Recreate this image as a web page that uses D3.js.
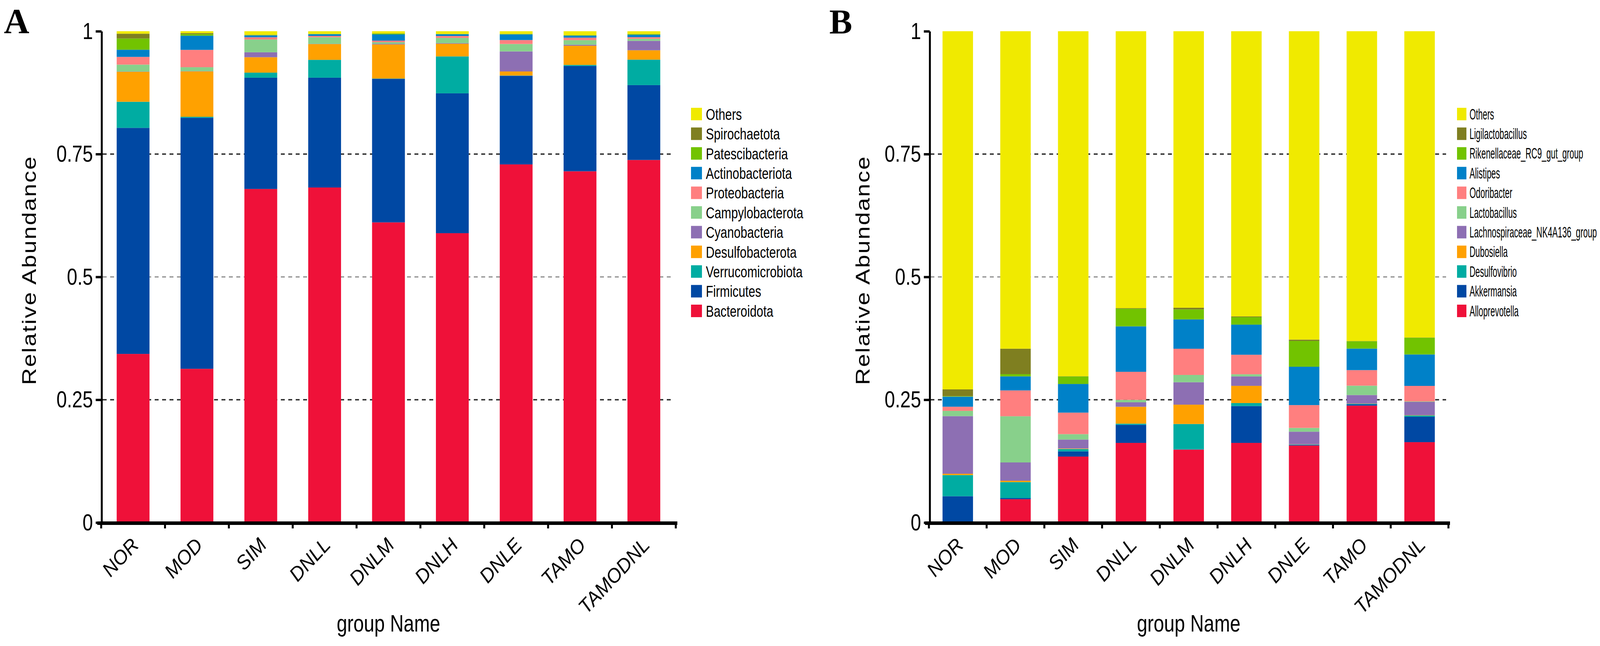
<!DOCTYPE html>
<html>
<head>
<meta charset="utf-8">
<script src="https://cdn.jsdelivr.net/npm/d3@7"></script>
<style>
  html, body { margin: 0; background: #fff; overflow: hidden; }
  svg { display: block; }
  text { font-family: "Liberation Sans", Arial, sans-serif; fill: #000; }
</style>
</head>
<body>
<svg id="fig" width="4238" height="1654"></svg>
<script>
var groups = ["NOR", "MOD", "SIM", "DNLL", "DNLM", "DNLH", "DNLE", "TAMO", "TAMODNL"];

// panel A, phylum level (stack order: bottom -> top)
var phylumNames = [
  "Bacteroidota",
  "Firmicutes",
  "Verrucomicrobiota",
  "Desulfobacterota",
  "Cyanobacteria",
  "Campylobacterota",
  "Proteobacteria",
  "Actinobacteriota",
  "Patescibacteria",
  "Spirochaetota",
  "Others",
];
var bacteroidota = [0.3433, 0.313, 0.679, 0.682, 0.611, 0.589, 0.729, 0.715, 0.738];
var firmicutes = [0.4601, 0.511, 0.2265, 0.2235, 0.2922, 0.2847, 0.1803, 0.2144, 0.1524];
var verrucomicrobiota = [0.0531, 0.0019, 0.0103, 0.0363, 0.0005, 0.0751, 0.0005, 0.0021, 0.0518];
var desulfobacterota = [0.061, 0.0924, 0.0313, 0.032, 0.0695, 0.0257, 0.0083, 0.039, 0.0191];
var cyanobacteria = [0.0005, 0.0005, 0.0101, 0.0005, 0.0013, 0.0013, 0.0409, 0.0021, 0.0191];
var campylobacterota = [0.0141, 0.008, 0.026, 0.0135, 0.0032, 0.0106, 0.0151, 0.0093, 0.0043];
var proteobacteria = [0.0157, 0.0353, 0.0045, 0.0027, 0.0032, 0.004, 0.008, 0.0051, 0.0032];
var actinobacteriota = [0.0146, 0.0289, 0.0038, 0.0035, 0.0127, 0.0035, 0.0114, 0.004, 0.0048];
var patescibacteria = [0.0228, 0.0032, 0.001, 0.0005, 0.0016, 0.0005, 0.0008, 0.001, 0.0015];
var spirochaetota = [0.0098, 0.0019, 0.0005, 0.0003, 0.0005, 0.0003, 0.0005, 0.0003, 0.0004];
var phylumOthers = [0.005, 0.004, 0.007, 0.0052, 0.0043, 0.0053, 0.0052, 0.0077, 0.0054];

// panel B, genus level (stack order: bottom -> top)
var genusNames = [
  "Alloprevotella",
  "Akkermansia",
  "Desulfovibrio",
  "Dubosiella",
  "Lachnospiraceae_NK4A136_group",
  "Lactobacillus",
  "Odoribacter",
  "Alistipes",
  "Rikenellaceae_RC9_gut_group",
  "Ligilactobacillus",
  "Others",
];
var alloprevotella = [0, 0.0476, 0.1344, 0.1622, 0.1485, 0.1622, 0.1569, 0.238, 0.1637];
var akkermansia = [0.0537, 0.0024, 0.0106, 0.0369, 0.0005, 0.075, 0.0015, 0.0027, 0.0517];
var desulfovibrio = [0.043, 0.0324, 0.0047, 0.0023, 0.0517, 0.0061, 0.0005, 0.001, 0.0027];
var dubosiella = [0.0027, 0.0027, 0.001, 0.0343, 0.0393, 0.035, 0.0005, 0.0005, 0.0005];
var lachnospiraceae = [0.1173, 0.0373, 0.0183, 0.0091, 0.0457, 0.0191, 0.0256, 0.0174, 0.027];
var lactobacillus = [0.0107, 0.094, 0.011, 0.005, 0.0148, 0.0045, 0.0077, 0.0191, 0.001];
var odoribacter = [0.0084, 0.0526, 0.0438, 0.0571, 0.0533, 0.0397, 0.0464, 0.0316, 0.0316];
var alistipes = [0.0205, 0.0286, 0.0583, 0.0925, 0.0598, 0.0613, 0.0781, 0.0438, 0.064];
var rikenellaceae = [0.001, 0.0045, 0.0152, 0.036, 0.0202, 0.0152, 0.0525, 0.0148, 0.0339];
var ligilactobacillus = [0.0138, 0.0518, 0.0005, 0.001, 0.0035, 0.0015, 0.0027, 0.0005, 0.0005];
var genusOthers = [0.7289, 0.6461, 0.7022, 0.5636, 0.5627, 0.5804, 0.6276, 0.6306, 0.6234];

// same palette for both panels, bottom -> top
var palette = [
  "#ef1139",
  "#0048a3",
  "#00aca2",
  "#ffa100",
  "#8d6fb3",
  "#88d08b",
  "#ff7f7f",
  "#0081c8",
  "#72c300",
  "#7f7f20",
  "#f0ea00",
];

var yTicks = [0, 0.25, 0.5, 0.75, 1];
var yTickLabels = ["0", "0.25", "0.5", "0.75", "1"];

var svg = d3.select("#fig");

// the viewport is narrower than the picture, keep texts inside it
var visibleRight = Math.min(4238, window.innerWidth || 4238) - 8;

var y = d3.scaleLinear().domain([0, 1]).range([1338, 80]);

function drawPanel(p) {
  var g = svg.append("g");

  var rows = groups.map(function (grp, i) {
    var r = { group: grp };
    p.names.forEach(function (n, k) {
      r[n] = p.series[k][i];
    });
    return r;
  });
  var layers = d3.stack().keys(p.names)(rows);

  var x = d3.scaleBand().domain(groups).range([p.x0, p.x1]).padding(0);
  var barW = x.bandwidth() * p.barFrac;
  var color = d3.scaleOrdinal().domain(p.names).range(palette);

  // dashed reference lines, behind the bars
  g.selectAll(".grid")
    .data([0.25, 0.5, 0.75])
    .enter()
    .append("line")
    .attr("x1", p.x0 + 4)
    .attr("x2", p.gridEnd)
    .attr("y1", function (d) { return y(d); })
    .attr("y2", function (d) { return y(d); })
    .attr("stroke", function (d) { return d == 0.5 ? "#8a8a8a" : "#2a2a2a"; })
    .attr("stroke-width", function (d) { return d == 0.5 ? 3 : 3.5; })
    .attr("stroke-dasharray", "10,9");

  g.selectAll(".layer")
    .data(layers)
    .enter()
    .append("g")
    .attr("fill", function (d) { return color(d.key); })
    .selectAll("rect")
    .data(function (d) { return d; })
    .enter()
    .append("rect")
    .attr("x", function (d) { return x(d.data.group) + (x.bandwidth() - barW) / 2; })
    .attr("width", barW)
    .attr("y", function (d) { return y(d[1]); })
    .attr("height", function (d) { return Math.max(0, y(d[0]) - y(d[1])); });

  // y axis
  var yAxis = g
    .append("g")
    .attr("transform", "translate(" + p.yAxisX + ",0)")
    .call(
      d3.axisLeft(y)
        .tickValues(yTicks)
        .tickFormat(function (d, i) { return yTickLabels[i]; })
        .tickSize(15)
        .tickSizeOuter(0)
    );
  yAxis.select(".domain").attr("stroke", "#000").attr("stroke-width", 5);
  yAxis.selectAll(".tick line").attr("stroke", "#000").attr("stroke-width", 6);
  yAxis.selectAll(".tick text")
    .attr("x", -22 / 0.8)
    .attr("transform", "scale(0.8,1)")
    .style("font-size", "60px")
    .style("font-family", '"Liberation Sans", Arial, sans-serif');

  // x axis: heavy baseline with ticks between groups
  g.append("line")
    .attr("x1", p.x0 - 10)
    .attr("x2", p.x1 + 4)
    .attr("y1", 1339.5)
    .attr("y2", 1339.5)
    .attr("stroke", "#000")
    .attr("stroke-width", 9);
  var edges = groups.map(function (grp) { return x(grp); }).concat([p.x1]);
  g.selectAll(".xtick")
    .data(edges)
    .enter()
    .append("line")
    .attr("x1", function (d) { return d; })
    .attr("x2", function (d) { return d; })
    .attr("y1", 1340)
    .attr("y2", 1353)
    .attr("stroke", "#000")
    .attr("stroke-width", 5);

  g.selectAll(".xlab")
    .data(groups)
    .enter()
    .append("text")
    .attr("transform", function (d) {
      return "translate(" + (x(d) + x.bandwidth() / 2 + 18) + ",1398) rotate(-47)";
    })
    .attr("text-anchor", "end")
    .style("font-size", "50px")
    .style("font-style", "italic")
    .text(function (d) { return d; });

  g.append("text")
    .attr("transform", "translate(" + (p.x0 + p.x1) / 2 + ",1617) scale(0.79,1)")
    .attr("text-anchor", "middle")
    .style("font-size", "61px")
    .text("group Name");

  g.append("text")
    .attr("transform", "translate(" + p.yTitleX + ",692) scale(0.82,1) rotate(-90)")
    .attr("text-anchor", "middle")
    .style("font-size", "60px")
    .style("letter-spacing", "3px")
    .text("Relative Abundance");

  g.append("text")
    .attr("x", p.letterX)
    .attr("y", 85)
    .style("font-family", '"Liberation Serif", "Times New Roman", serif')
    .style("font-weight", "bold")
    .style("font-size", p.letterSize + "px")
    .text(p.letter);

  // legend, top item is the top of the stack
  var legendItems = p.names.slice().reverse();
  var lg = g.selectAll(".leg")
    .data(legendItems)
    .enter()
    .append("g")
    .attr("transform", function (d, i) { return "translate(0," + (292 + i * 50.4) + ")"; });
  lg.append("rect")
    .attr("x", p.legX)
    .attr("y", -16)
    .attr("width", p.swW)
    .attr("height", 32)
    .attr("fill", function (d) { return color(d); });
  var lt = lg.append("text")
    .attr("dy", "0.36em")
    .style("font-size", p.legFont + "px")
    .text(function (d) { return d; });

  // narrow the legend text so the longest name stays on screen
  var widest = d3.max(lt.nodes(), function (n) { return n.getComputedTextLength(); });
  var room = Math.min(p.legMaxW, visibleRight - p.legTextX);
  var sx = Math.min(0.75, room / widest);
  lt.attr("transform", "translate(" + p.legTextX + ",0) scale(" + sx + ",1)");
}

drawPanel({
  letter: "A",
  letterX: 10,
  letterSize: 90,
  names: phylumNames,
  series: [
    bacteroidota, firmicutes, verrucomicrobiota, desulfobacterota, cyanobacteria,
    campylobacterota, proteobacteria, actinobacteriota, patescibacteria, spirochaetota, phylumOthers,
  ],
  x0: 259,
  x1: 1730,
  barFrac: 0.514,
  gridEnd: 1724,
  yAxisX: 260,
  yTitleX: 92,
  legX: 1769,
  swW: 28,
  legTextX: 1807,
  legFont: 41,
  legMaxW: 300,
});

drawPanel({
  letter: "B",
  letterX: 2123,
  letterSize: 88,
  names: genusNames,
  series: [
    alloprevotella, akkermansia, desulfovibrio, dubosiella, lachnospiraceae,
    lactobacillus, odoribacter, alistipes, rikenellaceae, ligilactobacillus, genusOthers,
  ],
  x0: 2378,
  x1: 3708,
  barFrac: 0.528,
  gridEnd: 3702,
  yAxisX: 2380,
  yTitleX: 2226,
  legX: 3730,
  swW: 24,
  legTextX: 3762,
  legFont: 38,
  legMaxW: 440,
});
</script>
</body>
</html>
